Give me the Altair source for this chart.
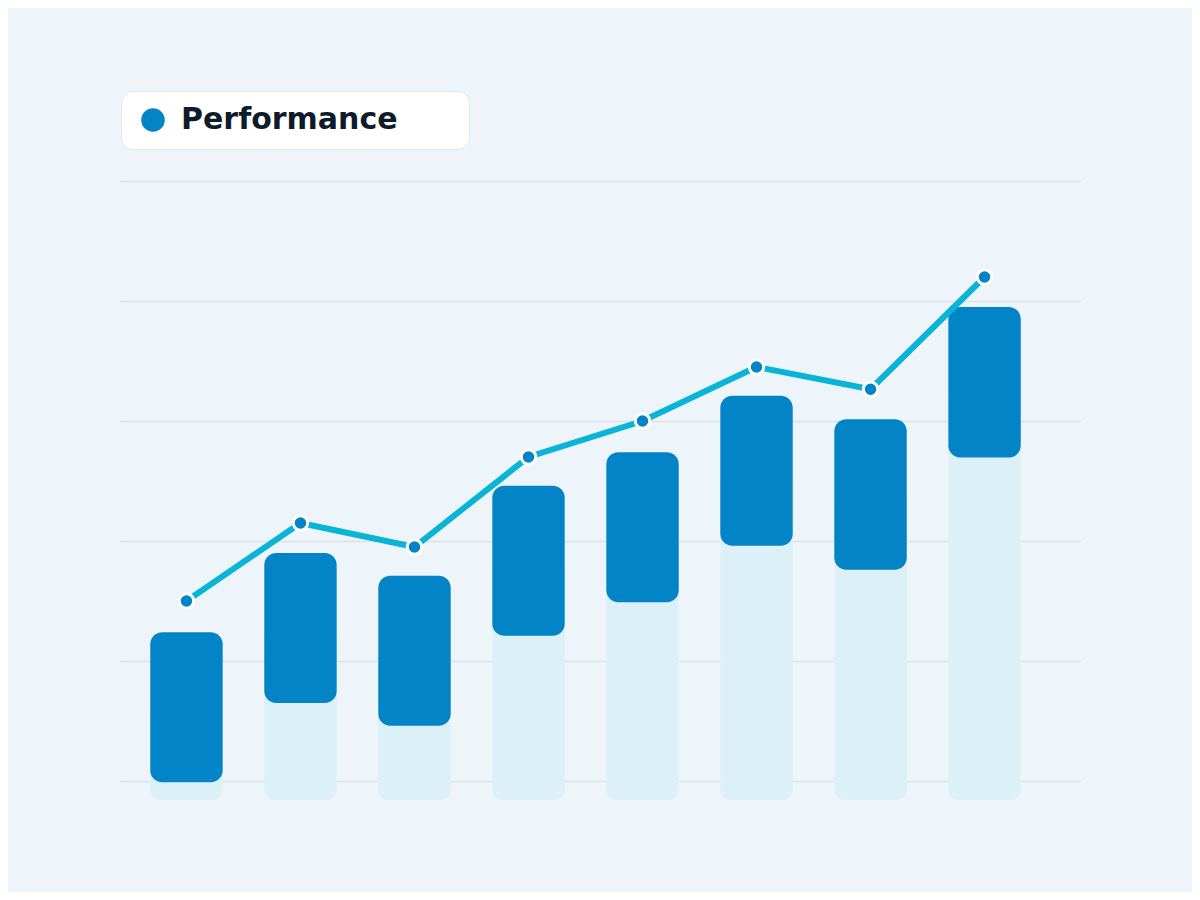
import altair as alt
import pandas as pd

# ---- data ----
positions = [0, 1, 2, 3, 4, 5, 6, 7]
performance = [30, 43, 39, 54, 60, 69, 65.3, 84]          # line + markers
bar_high = [24.8, 38, 34.2, 49.2, 54.8, 64.2, 60.3, 79]   # dark bar top
bar_low = [-0.2, 13, 9.2, 24.2, 29.8, 39.2, 35.2, 53.9]   # dark bar bottom
floor_value = [-3.17] * 8                                  # light track bottom
series = ["Performance"] * 8
grid_values = [0, 20, 40, 60, 80, 100]

df = pd.DataFrame({
    "pos": positions,
    "perf": performance,
    "hi": bar_high,
    "lo": bar_low,
    "floor": floor_value,
    "series": series,
})

x = alt.X("pos:Q", axis=None,
          scale=alt.Scale(domain=[-0.583, 7.846], nice=False, zero=False,
                          padding=0))
y_scale = alt.Scale(domain=[-3.1667, 100], nice=False, zero=False)

base = alt.Chart(df)

track = base.transform_calculate(
    mid="(datum.lo + datum.hi) / 2"
).mark_bar(width=72.4, color="#dcf0f8", cornerRadius=10).encode(
    x=x,
    y=alt.Y("floor:Q", scale=y_scale,
            axis=alt.Axis(values=grid_values, labels=False, ticks=False,
                          domain=False, title=None, grid=True,
                          gridColor="#dbe4ec", gridWidth=1.5)),
    y2="mid:Q",
)

# blank padding glyphs widen the legend box to the reference's width
PAD = "\u2800\u00a0\u2800"
bars = base.mark_bar(width=72.4, cornerRadius=12).encode(
    x=x,
    y=alt.Y("lo:Q", scale=y_scale),
    y2="hi:Q",
    color=alt.Color(
        "series:N",
        scale=alt.Scale(domain=["Performance"], range=["#0284c7"]),
        legend=alt.Legend(
            title=None,
            orient="none", legendX=1, legendY=-90,
            symbolType="circle", symbolSize=556, symbolStrokeWidth=0,
            symbolOffset=3, labelOffset=13,
            labelFont="DejaVu Sans", labelFontWeight="bold",
            labelFontSize=30, labelColor="#0f1b2a", labelLimit=500,
            labelExpr="datum.label + '" + PAD + "'",
            padding=14, fillColor="#ffffff", strokeColor="#e1e8ee",
            cornerRadius=12,
        ),
    ),
)

line = base.mark_line(color="#0ab4d6", strokeWidth=6).encode(
    x=x, y=alt.Y("perf:Q", scale=y_scale)
)

points = base.mark_point(filled=True, fill="#0284c7", stroke="#ffffff",
                         strokeWidth=3, size=210, opacity=1,
                         strokeOpacity=1, fillOpacity=1).encode(
    x=x, y=alt.Y("perf:Q", scale=y_scale)
)

chart = alt.layer(track, bars, line, points).properties(
    width=961, height=619,
    background="#edf5fa",
    padding={"left": 112, "top": 173, "right": 111, "bottom": 92},
    autosize=alt.AutoSizeParams(type="none"),
).configure_view(stroke=None)

chart.save("out.html", embed_options={"renderer": "svg", "actions": False})
